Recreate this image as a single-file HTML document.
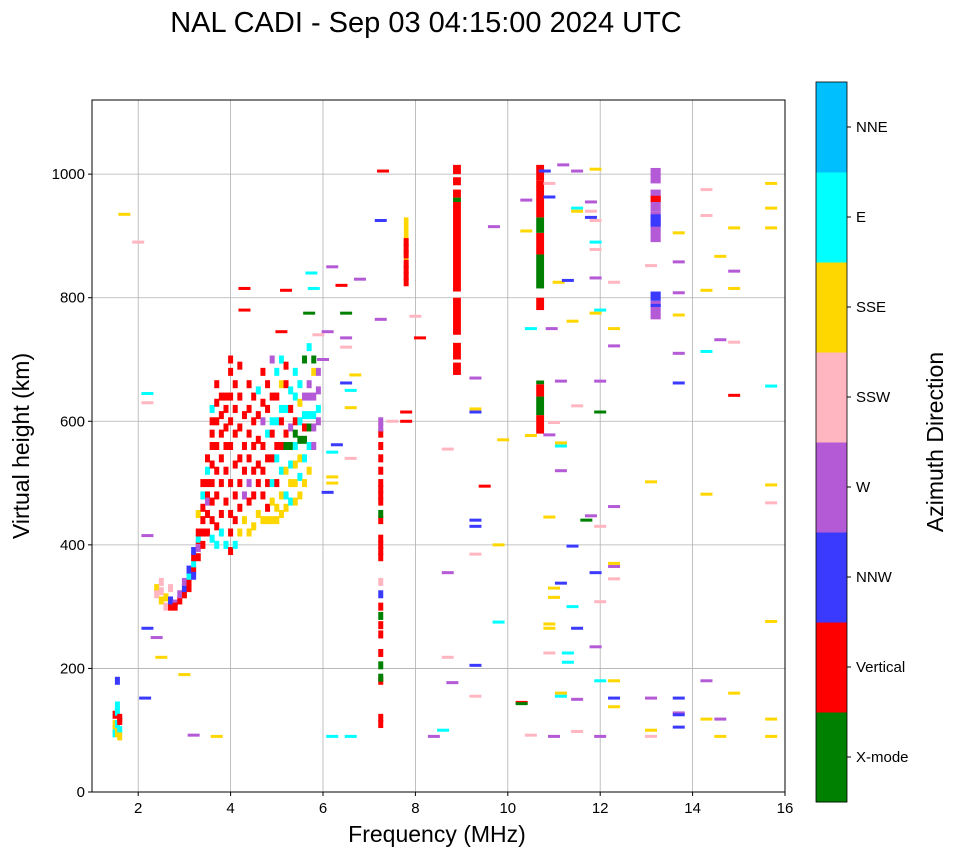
<!DOCTYPE html>
<html><head><meta charset="utf-8">
<style>
html,body{margin:0;padding:0;background:#fff;}
svg{display:block;font-family:"Liberation Sans","DejaVu Sans",sans-serif;}
</style></head>
<body>
<svg id="chart" width="958" height="857" viewBox="0 0 958 857">
<text x="426" y="32" text-anchor="middle" font-size="29">NAL CADI - Sep 03 04:15:00 2024 UTC</text>
<g id="grid"></g>
<g id="marks"></g>
<rect x="92" y="100" width="693" height="692" fill="none" stroke="#000" stroke-width="1"/>
<g id="axes"></g>
<text x="437" y="842" text-anchor="middle" font-size="23">Frequency (MHz)</text>
<text transform="translate(29,446) rotate(-90)" text-anchor="middle" font-size="23">Virtual height (km)</text>
<g id="cbar"></g>
<text transform="translate(943,442) rotate(-90)" text-anchor="middle" font-size="23">Azimuth Direction</text>
</svg>
<script>
const dirNames = ["X-mode","Vertical","NNW","W","SSW","SSE","E","NNE"];
const dirColors = ["#008000","#ff0000","#3a3aff","#b45ad6","#ffb6c1","#ffd700","#00ffff","#00bfff"];
const xTicks = [2,4,6,8,10,12,14,16];
const yTicks = [0,200,400,600,800,1000];

const traceFreq = [];
const traceHeight = [];
const traceDir = [];
const traceRaw = {
"1.5":[[100,5],[110,5],[95,6],[125,1]],
"1.55":[[110,6],[130,6],[140,6],[180,2],[95,5]],
"1.6":[[115,1],[120,1],[100,6],[90,5]],
"2.4":[[330,5],[320,4]],"2.5":[[340,4],[310,5],[325,4]],"2.6":[[300,4],[315,5]],
"2.7":[[300,1],[310,2],[330,4]],"2.8":[[305,3],[300,1]],"2.9":[[310,1],[320,3]],
"3.0":[[320,1],[330,2],[340,3]],"3.1":[[340,1],[350,6],[360,2],[330,1]],
"3.2":[[360,1],[370,6],[380,1],[350,2],[390,2]],
"3.3":[[380,1],[400,1],[410,6],[420,1],[395,3],[450,5]],
"3.4":[[400,1],[420,1],[440,1],[460,1],[480,6],[500,1]],
"3.5":[[420,1],[450,1],[480,1],[500,1],[520,6],[540,1],[470,3]],
"3.6":[[410,6],[440,1],[470,1],[500,1],[530,1],[560,1],[580,1],[600,1],[620,6]],
"3.7":[[430,1],[480,1],[520,1],[560,1],[600,1],[630,1],[660,1],[400,6]],
"3.8":[[450,1],[500,1],[540,1],[580,1],[610,1],[640,1],[420,6]],
"3.9":[[400,6],[470,1],[520,1],[560,1],[590,1],[620,1],[640,1]],
"4.0":[[390,1],[420,1],[450,1],[500,1],[560,1],[600,1],[640,1],[680,1],[700,1]],
"4.1":[[400,6],[440,1],[480,1],[530,1],[580,1],[620,1],[660,1]],
"4.2":[[420,5],[460,1],[500,1],[540,1],[590,1],[640,1],[690,1]],
"4.3":[[440,5],[480,3],[520,1],[560,1],[610,1]],
"4.4":[[420,5],[470,1],[500,3],[540,1],[580,1],[620,1],[660,1]],
"4.5":[[430,5],[480,1],[520,1],[560,1],[600,1],[640,1]],
"4.6":[[450,5],[500,1],[530,1],[570,1],[610,1],[650,6]],
"4.7":[[440,5],[480,1],[520,1],[560,1],[600,3],[630,1],[680,1]],
"4.8":[[440,5],[460,1],[500,1],[540,1],[580,6],[620,1],[660,1]],
"4.9":[[440,5],[470,5],[500,6],[540,1],[580,1],[600,6],[640,1],[700,3]],
"5.0":[[440,5],[460,5],[500,1],[540,6],[560,1],[600,6],[640,1],[680,6]],
"5.1":[[450,5],[480,5],[520,6],[560,1],[600,1],[620,6],[660,5],[700,6]],
"5.2":[[460,5],[480,6],[520,5],[560,0],[580,1],[620,6],[660,1],[690,1]],
"5.3":[[470,6],[500,5],[530,6],[560,0],[590,3],[620,1],[650,6]],
"5.4":[[470,5],[500,5],[530,5],[560,6],[580,0],[600,1],[640,6],[680,6]],
"5.5":[[480,5],[510,6],[540,5],[570,0],[600,6],[630,5],[660,6]],
"5.6":[[500,5],[540,6],[570,0],[590,1],[610,6],[640,3],[700,0]],
"5.7":[[520,5],[560,6],[590,0],[610,6],[640,3],[660,3],[720,6]],
"5.8":[[560,3],[590,3],[610,6],[640,3],[680,5],[700,0]],
"5.9":[[600,3],[620,6],[650,3],[680,3]],
"7.25":[[110,1],[120,1],[180,1],[185,0],[205,0],[225,1],[255,1],[270,1],[285,0],[300,1],[320,2],[340,4],[380,1],[390,1],[400,1],[410,1],[440,1],[450,0],[470,1],[480,1],[490,1],[500,1],[520,1],[540,1],[560,1],[580,1],[590,3],[600,3]],
"7.8":[[825,1],[835,1],[845,1],[855,1],[870,1],[880,1],[890,1]]
};
for (const f in traceRaw) for (const p of traceRaw[f]) { traceFreq.push(+f); traceHeight.push(p[0]); traceDir.push(p[1]); }

const sparseFreq = [1.7,2.0,2.2,2.2,2.2,2.2,2.15,2.4,2.5,3.0,3.2,3.7,4.3,4.3,5.2,5.1,5.75,5.8,5.7,5.9,6.0,6.1,6.2,6.4,6.5,6.5,6.5,6.5,6.6,6.7,6.6,6.3,6.2,6.2,6.2,6.1,6.6,6.8,6.2,6.6,7.25,7.25,7.3,7.5,7.8,7.8,8.1,8.0,8.4,8.6,8.7,8.8,8.7,8.7,9.3,9.3,9.3,9.3,9.3,9.3,9.3,9.3,9.5,9.7,9.8,9.8,9.9,10.3,10.3,10.4,10.4,10.5,10.5,10.5,10.8,10.9,10.9,10.9,10.95,10.9,10.9,10.9,10.9,11.0,11.0,11.0,11.0,11.1,11.2,11.15,11.15,11.15,11.15,11.15,11.15,11.15,11.3,11.3,11.3,11.4,11.4,11.4,11.5,11.5,11.5,11.5,11.5,11.5,11.5,11.7,11.8,11.8,11.8,11.8,11.9,11.9,11.9,11.9,11.9,11.9,11.9,11.9,12.0,12.0,12.0,12.0,12.0,12.0,12.0,12.3,12.3,12.3,12.3,12.3,12.3,12.3,12.3,12.3,12.3,13.1,13.1,13.1,13.1,13.1,13.7,13.7,13.7,13.7,13.7,13.7,13.7,13.7,13.7,13.7,14.3,14.3,14.3,14.3,14.3,14.3,14.3,14.6,14.6,14.6,14.6,14.9,14.9,14.9,14.9,14.9,14.9,15.7,15.7,15.7,15.7,15.7,15.7,15.7,15.7,15.7];
const sparseHeight = [935,890,645,630,415,265,152,250,218,190,92,90,815,780,812,745,840,815,775,740,700,745,850,820,775,735,720,662,650,675,622,562,550,510,500,485,540,830,90,90,765,925,1005,600,615,600,735,770,90,100,218,177,355,555,670,615,620,440,430,385,205,155,495,915,400,275,570,145,143,958,908,92,750,577,1005,985,963,578,750,445,272,265,225,330,315,598,90,825,1015,665,565,560,520,338,160,155,828,225,210,762,398,300,1005,945,940,625,265,150,98,440,955,940,930,447,925,1008,890,878,832,775,355,235,780,665,615,430,308,180,90,825,750,722,462,370,365,345,180,152,138,852,502,152,100,90,905,858,808,772,710,662,152,128,125,105,975,933,812,713,482,180,118,867,732,118,90,913,843,815,728,642,160,985,945,913,657,497,468,276,118,90];
const sparseDir = [5,4,6,4,3,2,2,3,5,5,3,5,1,1,1,1,6,6,0,4,3,3,3,1,0,3,4,2,6,5,5,2,6,5,5,2,4,3,6,6,3,2,1,4,1,1,1,4,3,6,4,3,3,4,3,2,5,2,2,4,2,4,1,3,5,6,5,1,0,3,5,4,6,5,2,4,2,3,3,5,5,5,4,5,5,4,3,5,3,3,5,6,3,2,5,6,2,6,6,5,2,6,3,6,5,4,2,3,4,0,3,4,2,3,4,5,6,4,3,5,2,3,6,3,0,4,4,6,3,4,5,3,3,5,3,4,5,2,5,4,5,3,5,4,5,3,3,5,3,2,2,3,2,2,4,4,5,6,5,3,5,5,3,3,5,5,3,5,4,1,5,5,5,5,6,5,4,5,5];

const runFreq =   [8.9,8.9,8.9,8.9,8.9,8.9,8.9,8.9,10.7,10.7,10.7,10.7,10.7,10.7,10.7,10.7,10.7,10.7,7.8,13.2,13.2,13.2,13.2,13.2,13.2,13.2,13.2];
const runBottom = [675,700,740,810,955,962,982,1000,580,610,640,660,780,815,870,905,930,990,860,890,915,940,955,985,765,795,785];
const runTop =    [695,727,800,955,962,975,995,1015,610,640,660,666,800,870,905,930,990,1015,930,940,935,975,965,1010,795,810,790];
const runDir =    [1,1,1,1,0,1,1,1,1,0,1,0,1,0,1,0,1,1,5,3,2,3,1,3,3,2,2];
const runWidth =  [0.17,0.17,0.17,0.17,0.17,0.17,0.17,0.17,0.17,0.17,0.17,0.17,0.17,0.17,0.17,0.17,0.17,0.17,0.1,0.22,0.22,0.22,0.22,0.22,0.22,0.22,0.22];

const NS = "http://www.w3.org/2000/svg";
const X0 = 92, X1 = 785, Y0 = 792, Y1 = 100;
const xMin = 1, xMax = 16, yMin = 0, yMax = 1120;
function xs(f){ return X0 + (f - xMin) / (xMax - xMin) * (X1 - X0); }
function ys(h){ return Y0 - (h - yMin) / (yMax - yMin) * (Y0 - Y1); }
function mk(tag, attrs, parent){ const e = document.createElementNS(NS, tag); for (const k in attrs) e.setAttribute(k, attrs[k]); parent.appendChild(e); return e; }

const grid = document.getElementById('grid');
const axes = document.getElementById('axes');
const marks = document.getElementById('marks');
for (const t of xTicks) {
  const x = xs(t);
  const gl = mk('line', {x1:x, x2:x, y1:Y1, y2:Y0, stroke:'#b0b0b0', 'stroke-width':0.8}, grid);
  
  
  const tk = mk('line', {x1:x, x2:x, y1:Y0, y2:Y0+4, stroke:'#000'}, axes);
  
  
  const lb = mk('text', {x:x, y:Y0+21, 'text-anchor':'middle', 'font-size':15}, axes);
  lb.textContent = t;
  
  
}
for (const t of yTicks) {
  const y = ys(t);
  const gl = mk('line', {x1:X0, x2:X1, y1:y, y2:y, stroke:'#b0b0b0', 'stroke-width':0.8}, grid);
  
  
  const tk = mk('line', {x1:X0-4, x2:X0, y1:y, y2:y, stroke:'#000'}, axes);
  
  
  const lb = mk('text', {x:X0-7, y:y+5, 'text-anchor':'end', 'font-size':15}, axes);
  lb.textContent = t;
  
  
}

for (let i = 0; i < runFreq.length; i++) {
  const w = xs(runFreq[i] + runWidth[i]/2) - xs(runFreq[i] - runWidth[i]/2);
  const r = mk('rect', {x:xs(runFreq[i] - runWidth[i]/2), y:ys(runTop[i]), width:w, height:ys(runBottom[i]) - ys(runTop[i]), fill:dirColors[runDir[i]]}, marks);
  
  
}
for (let i = 0; i < traceFreq.length; i++) {
  const r = mk('rect', {x:xs(traceFreq[i]) - 2.5, y:ys(traceHeight[i]) - 4, width:5, height:8, fill:dirColors[traceDir[i]]}, marks);
  
  
}
for (let i = 0; i < sparseFreq.length; i++) {
  const d = (sparseDir[i] === undefined) ? 5 : sparseDir[i];
  const r = mk('rect', {x:xs(sparseFreq[i]) - 6, y:ys(sparseHeight[i]) - 1.5, width:12, height:3, fill:dirColors[d]}, marks);
  
  
}

const cb = document.getElementById('cbar');
const cbX = 816, cbW = 31, cbTop = 82, cbBot = 802;
const segH = (cbBot - cbTop) / dirNames.length;
for (let i = 0; i < dirNames.length; i++) {
  const y = cbBot - (i + 1) * segH;
  const r = mk('rect', {x:cbX, y:y, width:cbW, height:segH + 0.5, fill:dirColors[i]}, cb);
  
  
  const tk = mk('line', {x1:cbX+cbW, x2:cbX+cbW+4, y1:y+segH/2, y2:y+segH/2, stroke:'#000'}, cb);
  
  
  const lb = mk('text', {x:cbX+cbW+9, y:y+segH/2+5, 'font-size':15}, cb);
  lb.textContent = dirNames[i];
  
  
}
const fr = mk('rect', {x:cbX, y:cbTop, width:cbW, height:cbBot-cbTop, fill:'none', stroke:'#000', 'stroke-width':0.8}, cb);


</script>
</body></html>
